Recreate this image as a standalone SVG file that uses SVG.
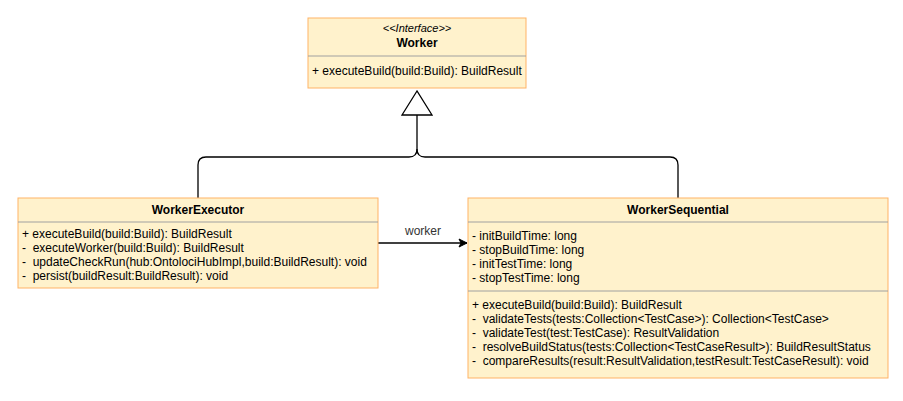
<svg xmlns="http://www.w3.org/2000/svg" width="903" height="401" viewBox="0 0 903 401">
<style>
text{font-family:"Liberation Sans",Arial,sans-serif;font-size:12px;fill:#000;white-space:pre}
.box{fill:#fff2cc;stroke:#ffb366;stroke-width:1}
.div{stroke:#a0a0a0;stroke-width:1}
.t{font-weight:bold;text-anchor:middle}
.c{fill:none;stroke:#000;stroke-width:1.3}
</style>
<defs>
<marker id="ah" markerWidth="10" markerHeight="10" refX="9" refY="5" orient="auto" markerUnits="userSpaceOnUse">
<path d="M1,1 L9,5 L1,9 L3,5 Z" fill="#000" stroke="#000"/>
</marker>
</defs>
<g id="connectors">
<path class="c" d="M198,198 V165 Q198,157 206,157 H409 Q417,157 417,149 V115"/>
<path class="c" d="M678,198 V165 Q678,157 670,157 H425 Q417,157 417,149"/>
<polygon points="417,91 402,115 432,115" fill="#fff" stroke="#000" stroke-width="1.3"/>
<line class="c" x1="378" y1="243" x2="467" y2="243" marker-end="url(#ah)"/>
<text x="423" y="235" text-anchor="middle" style="font-size:12px;fill:#333">worker</text>
</g>
<g id="worker">
<rect class="box" x="308" y="18" width="218" height="70"/>
<line class="div" x1="308" y1="56" x2="526" y2="56"/>
<text x="417" y="32" text-anchor="middle" style="font-style:italic;font-size:11px">&lt;&lt;Interface&gt;&gt;</text>
<text class="t" x="417" y="47">Worker</text>
<text x="312" y="75">+ executeBuild(build:Build): BuildResult</text>
</g>
<g id="workerExecutor">
<rect class="box" x="18" y="198" width="360" height="90"/>
<line class="div" x1="18" y1="222" x2="378" y2="222"/>
<text class="t" x="198" y="214">WorkerExecutor</text>
<text x="22" y="238">+ executeBuild(build:Build): BuildResult</text>
<text x="22" y="252">-  executeWorker(build:Build): BuildResult</text>
<text x="22" y="266">-  updateCheckRun(hub:OntolociHubImpl,build:BuildResult): void</text>
<text x="22" y="280">-  persist(buildResult:BuildResult): void</text>
</g>
<g id="workerSequential">
<rect class="box" x="468" y="198" width="420" height="180"/>
<line class="div" x1="468" y1="222" x2="888" y2="222"/>
<line class="div" x1="468" y1="291" x2="888" y2="291"/>
<text class="t" x="678" y="214">WorkerSequential</text>
<text x="472" y="240">- initBuildTime: long</text>
<text x="472" y="254">- stopBuildTime: long</text>
<text x="472" y="268">- initTestTime: long</text>
<text x="472" y="282">- stopTestTime: long</text>
<text x="472" y="309">+ executeBuild(build:Build): BuildResult</text>
<text x="472" y="323">-  validateTests(tests:Collection&lt;TestCase&gt;): Collection&lt;TestCase&gt;</text>
<text x="472" y="337">-  validateTest(test:TestCase): ResultValidation</text>
<text x="472" y="351">-  resolveBuildStatus(tests:Collection&lt;TestCaseResult&gt;): BuildResultStatus</text>
<text x="472" y="365">-  compareResults(result:ResultValidation,testResult:TestCaseResult): void</text>
</g>
</svg>
